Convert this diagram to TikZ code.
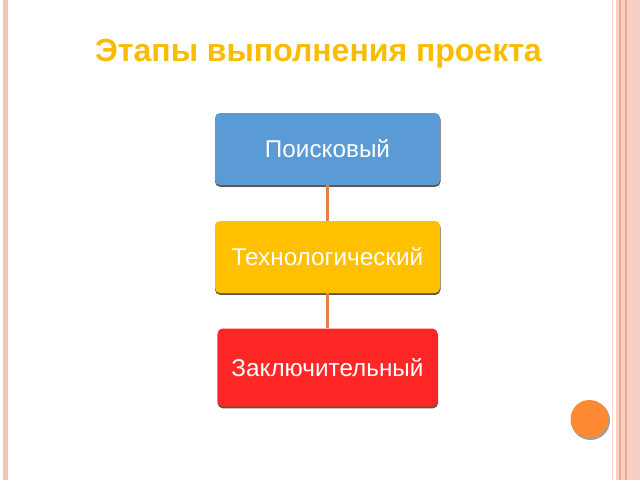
\documentclass[tikz,border=0pt]{standalone}
\usepackage{fontspec}
\setmainfont{Liberation Sans}
\usetikzlibrary{backgrounds}
\definecolor{titlecol}{RGB}{250,188,0}
\definecolor{bluebox}{RGB}{91,155,213}
\definecolor{yellowbox}{RGB}{255,192,0}
\definecolor{redbox}{RGB}{255,38,38}
\definecolor{conncol}{RGB}{228,128,78}
\definecolor{stripe}{RGB}{245,196,180}
\definecolor{stripedark}{RGB}{238,170,150}
\definecolor{dotcol}{RGB}{255,138,51}
\definecolor{shadowcol}{RGB}{95,85,75}
\begin{document}
\begin{tikzpicture}[x=1pt,y=-1pt,
  stagebox/.style={rounded corners=5pt, minimum height=72pt, inner sep=0pt,
    text=white, font=\fontsize{24.3}{28}\selectfont},
  boxshadow/.style={fill=shadowcol, rounded corners=5pt},
  connbar/.style={fill=conncol}]
% stages
\node[stagebox, fill=bluebox, minimum width=225pt] (p) at (327.5,149) {Поисковый};
\node[stagebox, fill=yellowbox, minimum width=225pt] (t) at (327.5,257) {Технологический};
\node[stagebox, fill=redbox, minimum width=220pt, minimum height=78pt] (z) at (327.5,367.5) {Заключительный};
% title
\node[text=titlecol, font=\bfseries\fontsize{32}{38}\selectfont] (title) at (318.5,54) {Этапы выполнения проекта};
% orange dot
\node[circle, fill=dotcol, minimum size=38pt, inner sep=0pt] (dot) at (589.5,419) {};
\begin{scope}[on background layer]
\fill[white] (0,0) rectangle (640,480);
% left stripe
\fill[stripe] (3,0) rectangle (7.5,480);
% right stripes
\fill[stripe!70] (611.5,0) rectangle (613,480);
\fill[stripe!80] (616,0) rectangle (640,480);
\fill[stripedark] (619,0) rectangle (620.5,480);
\fill[stripedark] (625,0) rectangle (627,480);
% shadows
\foreach \n in {p,t,z}{
  \fill[boxshadow] ([xshift=0.3pt,yshift=-1.6pt]\n.south west) rectangle ([xshift=0.3pt,yshift=-1.6pt]\n.north east);
}
\fill[gray!75] ([xshift=1pt,yshift=-1.5pt]dot.center) circle (19.5);
% connectors
\path[connbar] ([xshift=-1.5pt]p.south) rectangle ([xshift=1pt]t.north);
\path[connbar] ([xshift=-1.5pt]t.south) rectangle ([xshift=1pt]z.north);
\end{scope}
\useasboundingbox (0,0) rectangle (640,480);
\end{tikzpicture}
\end{document}
